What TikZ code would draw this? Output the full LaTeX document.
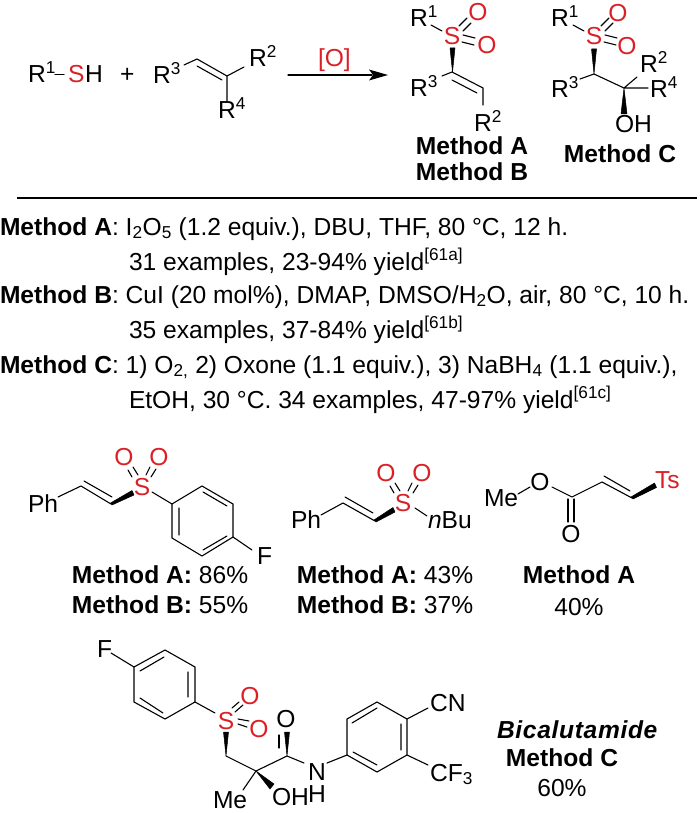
\documentclass[tikz,border=0pt]{standalone}
\usepackage{fontspec}
\setmainfont{Liberation Sans}
\definecolor{oxred}{RGB}{218,32,38}
\tikzset{
  bond/.style={line width=1.1pt,line cap=round},
  lbl/.style={anchor=base west,inner sep=0pt,outer sep=0pt,font=\fontsize{24.6}{24.6}\selectfont},
  mid/.style={lbl,anchor=base},
  boldmid/.style={mid,font=\fontsize{24.6}{24.6}\selectfont\bfseries},
  ox/.style={lbl,text=oxred},
  atomO/.style={mid,text=oxred},
  wedge/.style={fill=black,line join=round,line width=0.5pt,draw=black}
}
\begin{document}
\begin{tikzpicture}[x=1pt,y=-1pt]
  \useasboundingbox (0,0) rectangle (699,813);
  % starting materials
  \node[lbl] (thiol) at (28,83) {R\textsuperscript{1}};
  \node[ox] (sulfur) at (68,83) {S};
  \node[lbl] (hyd) at (85,83) {H};
  \node[lbl] (plus) at (120,83) {+};
  \node[lbl] (rthree) at (153,84) {R\textsuperscript{3}};
  \node[lbl] (rtwo) at (249,67) {R\textsuperscript{2}};
  \node[lbl] (rfour) at (218,119) {R\textsuperscript{4}};
  \draw[bond] (55,74.5) -- (64,74.5);
  \draw[bond] (184,65) -- (197,59) -- (227,76) -- (244,67) (227,76) -- (227,101);
  \draw[bond] (197,66) -- (222,80);
  % arrow
  \node[ox] (oxid) at (318,67) {[O]};
  \coordinate (arrowa) at (288,75);
  \coordinate (arrowb) at (388,75);
  \draw[bond] (arrowa) -- (372,75);
  \fill (arrowb) -- (369,69.5) -- (373,75) -- (369,80.5) -- cycle;
  % product A and B
  \node[lbl] (prodaone) at (410,27) {R\textsuperscript{1}};
  \node[atomO] (prodas) at (452,45) {S};
  \node[atomO] (prodaoa) at (478,21) {O};
  \node[atomO] (prodaob) at (487,54) {O};
  \node[lbl] (prodathree) at (410,97) {R\textsuperscript{3}};
  \node[lbl] (prodatwo) at (474,132) {R\textsuperscript{2}};
  \draw[bond] (431,25) -- (442,31);
  \draw[bond] (459,26) -- (467,18) (463,31) -- (471,23);
  \draw[bond] (463,35) -- (475,38) (462,42) -- (474,45);
  \fill[wedge] (450,48) -- (455,48) -- (452.5,72) -- cycle;
  \draw[bond] (442,76) -- (452,72) -- (483,88) -- (483,105);
  \draw[bond] (452,80) -- (477,93);
  \node[boldmid] (labela) at (472,155) {Method A};
  \node[boldmid] (labelb) at (472,181) {Method B};
  % product C
  \node[lbl] (prodcone) at (551,27) {R\textsuperscript{1}};
  \node[atomO] (prodcs) at (594,45) {S};
  \node[atomO] (prodcoa) at (618,22) {O};
  \node[atomO] (prodcob) at (627,55) {O};
  \node[lbl] (prodcthree) at (551,98) {R\textsuperscript{3}};
  \node[lbl] (prodctwo) at (640,73) {R\textsuperscript{2}};
  \node[lbl] (prodcfour) at (650,98) {R\textsuperscript{4}};
  \node[lbl] (prodcoh) at (615,133) {OH};
  \draw[bond] (573,25) -- (584,31);
  \draw[bond] (601,26) -- (609,18) (605,31) -- (613,23);
  \draw[bond] (605,35) -- (617,38) (604,42) -- (616,45);
  \fill[wedge] (591.5,49) -- (596.5,49) -- (594,74) -- cycle;
  \draw[bond] (580,79) -- (594,74) -- (624,88) -- (637,77) (624,88) -- (648,88);
  \fill[wedge] (624,88) -- (621,114) -- (627,114) -- cycle;
  \node[boldmid] (labelc) at (620,163) {Method C};
  % rule
  \coordinate (rulea) at (17,198);
  \coordinate (ruleb) at (697,198);
  \draw[line width=1.1pt] (rulea) -- (ruleb);
  % conditions
  \node[lbl] (conda) at (0,235) {\textbf{Method A}: I\textsubscript{2}O\textsubscript{5} (1.2 equiv.), DBU, THF, 80 °C, 12 h.};
  \node[lbl] (condaa) at (129,270) {31 examples, 23-94\% yield\textsuperscript{[61a]}};
  \node[lbl] (condb) at (0,303) {\textbf{Method B}: CuI (20 mol\%), DMAP, DMSO/H\textsubscript{2}O, air, 80 °C, 10 h.};
  \node[lbl] (condbb) at (129,338) {35 examples, 37-84\% yield\textsuperscript{[61b]}};
  \node[lbl] (condc) at (0,373) {\textbf{Method C}: 1) O\textsubscript{2,} 2) Oxone (1.1 equiv.), 3) NaBH\textsubscript{4} (1.1 equiv.),};
  \node[lbl] (condcc) at (129,408) {EtOH, 30 °C. 34 examples, 47-97\% yield\textsuperscript{[61c]}};
  % fluoro vinyl sulfone
  \node[lbl] (phone) at (28,512) {Ph};
  \node[atomO] (sone) at (142,495) {S};
  \node[atomO] (oonea) at (124,465) {O};
  \node[atomO] (ooneb) at (159,465) {O};
  \node[lbl] (fone) at (257,564) {F};
  \draw[bond] (58,497) -- (81,486) -- (111,504) (84,481) -- (112,497);
  \fill[wedge] (110.5,503) -- (132,490.5) -- (134,495) -- (112,505) -- cycle;
  \draw[bond] (128,470) -- (132,477) (133,467) -- (138,475);
  \draw[bond] (146,475) -- (150,467) (151,477) -- (156,469);
  \draw[bond] (152,492) -- (172,504);
  \draw[bond] (172,504) -- (202,486) -- (233,504) -- (233,537) -- (202,556) -- (172,538) -- cycle;
  \draw[bond] (179,508) -- (179,535) (203,492) -- (227,506) (203,550) -- (227,536);
  \draw[bond] (233,537) -- (252,550);
  \node[mid] (yielda) at (160,583) {\textbf{Method A:} 86\%};
  \node[mid] (yieldb) at (160,613) {\textbf{Method B:} 55\%};
  % butyl vinyl sulfone
  \node[lbl] (phtwo) at (291,528) {Ph};
  \node[atomO] (stwo) at (403,511) {S};
  \node[atomO] (otwoa) at (386,481) {O};
  \node[atomO] (otwob) at (422,481) {O};
  \node[lbl] (nbu) at (428,528) {\textit{n}Bu};
  \draw[bond] (321,515) -- (343,503) -- (375,521) (345,497) -- (373,513);
  \fill[wedge] (374,520) -- (393,507.5) -- (395,512) -- (376,522) -- cycle;
  \draw[bond] (390,486) -- (394,493) (395,483) -- (400,491);
  \draw[bond] (408,491) -- (412,483) (413,493) -- (418,485);
  \draw[bond] (415,508) -- (427,516);
  \node[mid] (yieldc) at (385,583) {\textbf{Method A:} 43\%};
  \node[mid] (yieldd) at (385,613) {\textbf{Method B:} 37\%};
  % acrylate
  \node[lbl] (meone) at (484,506) {Me};
  \node[mid] (oester) at (540,490) {O};
  \node[mid] (ocarb) at (571,542) {O};
  \node[ox] (ts) at (655,488) {Ts};
  \draw[bond] (518,494) -- (530,487) (552,487) -- (572,497) -- (602,482) -- (632,498);
  \draw[bond] (568,499) -- (568,522) (574,499) -- (574,522);
  \draw[bond] (604,476) -- (630,491);
  \fill[wedge] (631,497) -- (654.5,483) -- (656.5,487.5) -- (633,499) -- cycle;
  \node[boldmid] (yielde) at (579,583) {Method A};
  \node[mid] (yieldf) at (579,615) {40\%};
  % bicalutamide
  \node[lbl] (fbic) at (97,657) {F};
  \node[atomO] (sbic) at (226,729) {S};
  \node[atomO] (obica) at (250,704) {O};
  \node[atomO] (obicb) at (259,737) {O};
  \node[mid] (ocbic) at (286,727) {O};
  \node[mid] (nbic) at (317,780) {N};
  \node[mid] (hbic) at (317,802) {H};
  \node[lbl] (mebic) at (213,808) {Me};
  \node[lbl] (ohbic) at (272,805) {OH};
  \node[lbl] (cnbic) at (430,711) {CN};
  \node[lbl] (cfbic) at (430,781) {CF\textsubscript{3}};
  \draw[bond] (111,653) -- (134,667);
  \draw[bond] (134,667) -- (165,650) -- (195,667) -- (195,702) -- (165,719) -- (134,702) -- cycle;
  \draw[bond] (188,672) -- (188,697) (140,671) -- (164,657) (140,698) -- (163,713);
  \draw[bond] (195,702) -- (215,713);
  \draw[bond] (232,708) -- (239,702) (235,712) -- (243,705);
  \draw[bond] (238,719) -- (249,721) (238,724) -- (247,727);
  \fill[wedge] (223.5,732) -- (228.5,732) -- (226,756) -- cycle;
  \draw[bond] (226,756) -- (256,771) -- (287,756) -- (304,763);
  \fill[wedge] (284.5,732) -- (289.5,732) -- (287,756) -- cycle;
  \draw[bond] (279,735) -- (279,748);
  \draw[bond] (256,771) -- (243,790);
  \fill[wedge] (256,771) -- (274,784) -- (270,789) -- cycle;
  \draw[bond] (327,763) -- (347,755);
  \draw[bond] (347,755) -- (347,719) -- (377,702) -- (407,719) -- (407,755) -- (377,772) -- cycle;
  \draw[bond] (401,724) -- (401,750) (352,723) -- (377,708) (353,752) -- (377,765);
  \draw[bond] (407,719) -- (428,708) (407,755) -- (428,765);
  \node[lbl,font=\fontsize{24.6}{24.6}\selectfont\bfseries\itshape\addfontfeature{LetterSpace=2.7}] (namebic) at (497,738) {Bicalutamide};
  \node[boldmid] (methodbic) at (562,766) {Method C};
  \node[mid] (yieldg) at (562,796) {60\%};
\end{tikzpicture}
\end{document}
